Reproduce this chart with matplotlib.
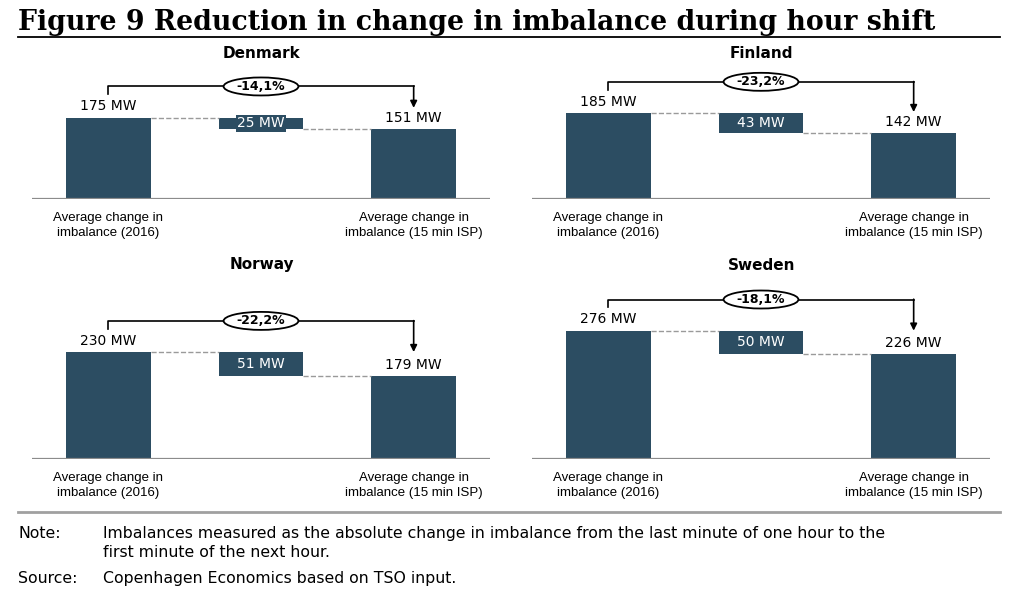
import matplotlib.pyplot as plt
from matplotlib.patches import Ellipse

#################### Data

countries = ['Denmark', 'Finland', 'Norway', 'Sweden']
start_mw = [175, 185, 230, 276]      # average change in imbalance (2016)
end_mw = [151, 142, 179, 226]        # average change in imbalance (15 min ISP)
diff_labels = [25, 43, 51, 50]       # as printed in the boxes
pct_labels = ['-14,1%', '-23,2%', '-22,2%', '-18,1%']
cat_labels = ['Average change in\nimbalance (2016)',
              'Average change in\nimbalance (15 min ISP)']

#################### Plot parameters

W, H = 1024, 600
bar_color = '#2c4d62'
dash_color = '#9a9a9a'
base_color = '#8c8c8c'
bar_w = 0.555
ymax = 360
px_per_mw = 0.465
px_per_x = 153

fig = plt.figure(figsize=(W / 100, H / 100), dpi=100)


def px_axes(x0, x1, baseline, top):
    # pixel box (from top-left) -> figure fraction
    return fig.add_axes((x0 / W, (H - baseline) / H, (x1 - x0) / W, (baseline - top) / H))


# panel boxes: x-left, x-right, baseline, title y  (pixels)
panels = [(32, 490, 199, 53), (532, 990, 199, 53),
          (32, 490, 459, 265), (532, 990, 459, 265)]

for i, (x0, x1, base, ty) in enumerate(panels):
    ax = px_axes(x0, x1, base, base - ymax * px_per_mw)
    ax.set_xlim(-0.5, 2.5)
    ax.set_ylim(0, ymax)
    for s in ax.spines.values():
        s.set_visible(False)
    ax.set_yticks([])

    s0, e0 = start_mw[i], end_mw[i]

    # bars
    ax.bar([0, 2], [s0, e0], width=bar_w, color=bar_color, zorder=2)
    ax.bar(1, s0 - e0, bottom=e0, width=bar_w, color=bar_color, zorder=2)
    ax.axhline(0, color=base_color, lw=1.6, zorder=3)

    # dashed connectors
    ax.plot([bar_w / 2, 1 - bar_w / 2], [s0, s0], ls='--', color=dash_color, lw=1)
    ax.plot([1 + bar_w / 2, 2 - bar_w / 2], [e0, e0], ls='--', color=dash_color, lw=1)

    # value labels
    ax.annotate(f'{s0} MW', (0, s0), xytext=(0, 3), textcoords='offset points',
                ha='center', va='bottom', fontsize=10, family='DejaVu Sans')
    ax.annotate(f'{e0} MW', (2, e0), xytext=(0, 3), textcoords='offset points',
                ha='center', va='bottom', fontsize=10, family='DejaVu Sans')
    ax.text(1, (s0 + e0) / 2, f'{diff_labels[i]} MW', ha='center', va='center',
            fontsize=10, color='white', family='DejaVu Sans', zorder=4,
            bbox=dict(boxstyle='square,pad=0.1', fc=bar_color, ec='none'))

    # bracket with arrow
    level = s0 + 67
    tip = max(s0, e0 + 45)
    ax.plot([0, 0, 2], [level - 17, level, level], color='black', lw=1.2, clip_on=False)
    ax.annotate('', xy=(2, tip), xytext=(2, level + 0.6),
                arrowprops=dict(arrowstyle='-|>', color='black', lw=1.2,
                                mutation_scale=10, shrinkA=0, shrinkB=0),
                annotation_clip=False)
    ax.add_patch(Ellipse((1, level), 75 / px_per_x, 18 / px_per_mw, fc='white',
                         ec='black', lw=1.3, zorder=4, clip_on=False))
    ax.text(1, level, pct_labels[i], ha='center', va='center', fontsize=9,
            fontweight='bold', family='DejaVu Sans', zorder=5)

    # category labels
    ax.set_xticks([0, 2])
    ax.set_xticklabels(cat_labels, fontsize=9.5, family='Liberation Sans',
                       linespacing=1.4)
    ax.tick_params(axis='x', length=0, pad=9)

    # country title, centred over the middle bar
    fig.text((x0 + 1.5 * px_per_x) / W, 1 - ty / H, countries[i],
             ha='center', va='center', fontsize=11, fontweight='bold',
             family='DejaVu Sans')

#################### Title, rules and notes

fig.text(18 / W, 1 - 30 / H, 'Figure 9 Reduction in change in imbalance during hour shift',
         fontsize=19.3, fontweight='bold', family='DejaVu Serif', va='baseline')
fig.add_artist(plt.Line2D([18 / W, 1000 / W], [1 - 36.5 / H] * 2, color='black', lw=1.3))
fig.add_artist(plt.Line2D([18 / W, 1000 / W], [1 - 512 / H] * 2, color='#a0a0a0', lw=2))

note_kw = dict(fontsize=11.3, family='DejaVu Sans', va='baseline')
fig.text(18 / W, 1 - 538 / H, 'Note:', **note_kw)
fig.text(103 / W, 1 - 538 / H, 'Imbalances measured as the absolute change in imbalance '
         'from the last minute of one hour to the', **note_kw)
fig.text(103 / W, 1 - 557 / H, 'first minute of the next hour.', **note_kw)
fig.text(18 / W, 1 - 583 / H, 'Source:', **note_kw)
fig.text(103 / W, 1 - 583 / H, 'Copenhagen Economics based on TSO input.', **note_kw)

plt.savefig('out.png', dpi=100)
